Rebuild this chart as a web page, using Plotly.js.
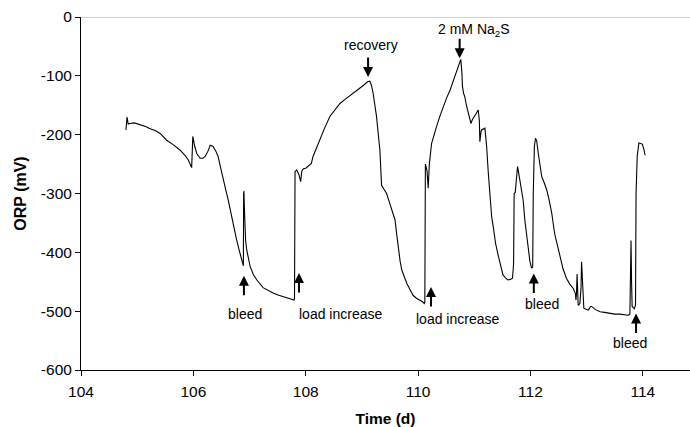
<!DOCTYPE html>
<html>
<head>
<meta charset="utf-8">
<script src="https://cdn.plot.ly/plotly-3.0.1.min.js"></script>
<style>html,body{margin:0;padding:0;background:#fff;}#chart{width:690px;height:427px;}</style>
</head>
<body>
<div id="chart"></div>
<script>
const timeDays = [104.80,104.81,104.82,104.84,104.87,104.95,105.05,105.15,105.23,105.32,105.41,105.47,105.52,105.64,105.76,105.85,105.91,105.97,105.99,106.02,106.06,106.12,106.17,106.21,106.26,106.30,106.35,106.40,106.44,106.49,106.53,106.58,106.62,106.66,106.70,106.74,106.77,106.82,106.86,106.89,106.895,106.90,106.91,106.93,106.95,107.01,107.07,107.13,107.24,107.33,107.42,107.52,107.63,107.72,107.79,107.80,107.81,107.84,107.88,107.91,107.93,107.96,108.00,108.04,108.10,108.13,108.19,108.25,108.34,108.43,108.52,108.61,108.70,108.79,108.88,108.96,109.03,109.10,109.14,109.17,109.20,109.23,109.26,109.29,109.32,109.35,109.40,109.44,109.50,109.56,109.59,109.62,109.65,109.68,109.71,109.76,109.80,109.86,109.91,109.97,110.03,110.08,110.11,110.12,110.13,110.16,110.18,110.20,110.24,110.28,110.33,110.39,110.45,110.51,110.57,110.63,110.69,110.73,110.76,110.78,110.79,110.81,110.83,110.86,110.89,110.94,110.96,110.98,111.03,111.07,111.09,111.10,111.12,111.13,111.19,111.22,111.25,111.28,111.31,111.34,111.38,111.43,111.47,111.51,111.56,111.60,111.64,111.68,111.70,111.71,111.73,111.77,111.79,111.81,111.84,111.87,111.90,111.93,111.96,111.99,112.02,112.04,112.05,112.07,112.09,112.11,112.14,112.17,112.20,112.25,112.29,112.33,112.38,112.43,112.48,112.52,112.58,112.64,112.70,112.76,112.80,112.81,112.82,112.83,112.84,112.85,112.88,112.90,112.91,112.93,112.95,113.00,113.03,113.07,113.09,113.15,113.24,113.32,113.41,113.50,113.59,113.67,113.74,113.77,113.79,113.80,113.81,113.85,113.87,113.88,113.90,113.93,113.96,113.99,114.02,114.04];
const orpMv = [-192,-175,-170,-182,-181,-180,-183,-186,-190,-193,-198,-204,-209,-217,-226,-235,-243,-256,-203,-218,-232,-240,-240,-237,-228,-218,-220,-228,-237,-258,-277,-295,-311,-330,-345,-365,-379,-398,-413,-423,-300,-296,-330,-380,-396,-424,-438,-447,-460,-465,-469,-473,-477,-479,-481,-479,-263,-260,-268,-280,-262,-258,-257,-254,-249,-237,-222,-209,-188,-169,-157,-147,-140,-133,-127,-121,-116,-110,-109,-116,-130,-148,-169,-198,-226,-286,-294,-300,-318,-334,-345,-370,-396,-415,-430,-443,-453,-464,-473,-478,-481,-484,-487,-485,-250,-262,-291,-250,-215,-200,-186,-168,-152,-137,-124,-107,-90,-78,-72,-95,-118,-130,-135,-150,-164,-181,-176,-172,-165,-158,-175,-212,-195,-192,-189,-220,-265,-311,-340,-358,-385,-407,-424,-438,-444,-447,-446,-444,-420,-300,-298,-254,-265,-277,-295,-311,-345,-372,-396,-415,-427,-425,-300,-220,-206,-210,-232,-252,-271,-283,-294,-310,-334,-368,-390,-407,-428,-444,-454,-461,-470,-481,-470,-437,-475,-490,-487,-460,-416,-470,-495,-497,-498,-492,-492,-497,-501,-502,-504,-505,-505,-506,-507,-505,-380,-450,-492,-496,-490,-300,-237,-214,-215,-216,-225,-235];

const xTickVals = [104,106,108,110,112,114];
const yTickVals = [-600,-500,-400,-300,-200,-100,0];

// event markers: arrow tip (x, y), arrow direction, label position
const eventLabels = ['recovery','2 mM Na<sub>2</sub>S','bleed','load increase','load increase','bleed','bleed'];
const eventTipX = [109.11,110.74,106.90,107.88,110.23,112.06,113.88];
const eventTipY = [-102,-70,-440,-435,-459,-436,-504];
const eventLabelX = [109.16,110.99,106.92,108.62,110.70,112.20,113.77];
const eventLabelY = [-47,-22,-505,-505,-513,-488,-554];
const eventArrowDir = [-1,-1,1,1,1,1,1];

const font = 'Liberation Sans, Arial, sans-serif';

const annotations = [];
for (let i = 0; i < eventLabels.length; i++) {
  annotations.push({
    x: eventTipX[i], y: eventTipY[i], xref: 'x', yref: 'y',
    text: '', showarrow: true, arrowhead: 2, arrowsize: 1, arrowwidth: 2,
    arrowcolor: '#000', ax: 0, ay: 21 * eventArrowDir[i]
  });
  annotations.push({
    x: eventLabelX[i], y: eventLabelY[i], xref: 'x', yref: 'y',
    text: eventLabels[i], showarrow: false,
    font: {family: font, size: 14, color: '#000'}
  });
}

const trace = {
  x: timeDays, y: orpMv, type: 'scatter', mode: 'lines',
  line: {color: '#000', width: 1.1}, hoverinfo: 'none'
};

const layout = {
  width: 690, height: 427,
  margin: {l: 81, r: 0, t: 17, b: 57},
  paper_bgcolor: '#fff', plot_bgcolor: '#fff',
  showlegend: false,
  font: {family: font, size: 15.5, color: '#000'},
  xaxis: {
    range: [104, 114.84], tickvals: xTickVals, ticktext: xTickVals.map(String),
    ticks: 'outside', ticklen: 5, tickcolor: '#000', tickwidth: 1,
    showline: true, linecolor: '#000', linewidth: 1,
    showgrid: false, zeroline: false, ticklabelstandoff: 2,
    tickfont: {family: font, size: 15.5, color: '#000'},
    title: {text: '<b>Time (d)</b>', font: {family: font, size: 15.5, color: '#000'}, standoff: 19}
  },
  yaxis: {
    range: [-600, 0], tickvals: yTickVals, ticktext: yTickVals.map(String),
    ticks: 'outside', ticklen: 5, tickcolor: '#000', tickwidth: 1,
    showline: true, linecolor: '#000', linewidth: 1,
    showgrid: false, zeroline: false,
    tickfont: {family: font, size: 15.5, color: '#000'},
    title: {text: '<b>ORP (mV)</b>', font: {family: font, size: 16, color: '#000'}, standoff: 10}
  },
  shapes: [{type: 'line', xref: 'paper', yref: 'y', x0: 0, x1: 1, y0: 0, y1: 0,
            line: {color: '#a6a6a6', width: 1}}],
  annotations: annotations
};

Plotly.newPlot('chart', [trace], layout, {displayModeBar: false, staticPlot: true});
</script>
</body>
</html>
